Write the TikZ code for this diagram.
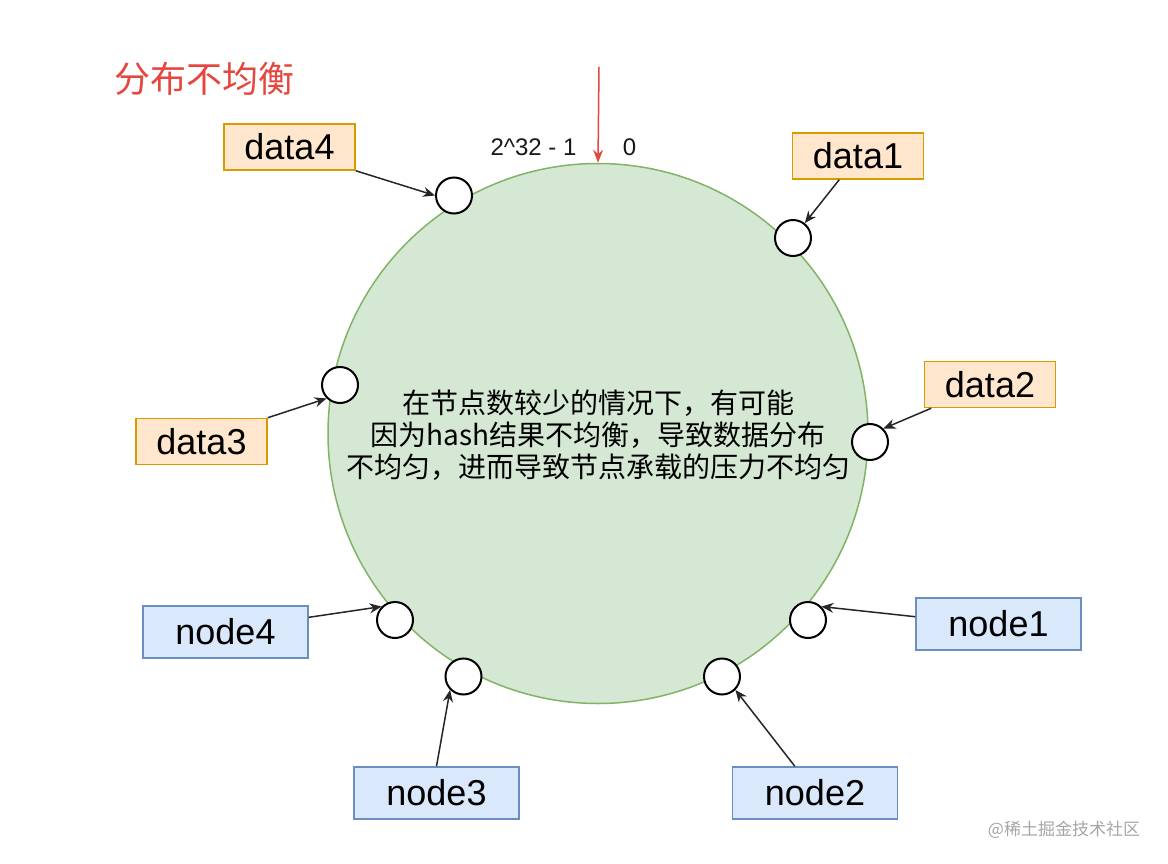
\documentclass[tikz,border=0pt]{standalone}
\usepackage{fontspec}
\setmainfont{Liberation Sans}
\newfontfamily\cjk{Noto Sans CJK SC}
\usetikzlibrary{arrows.meta}
\definecolor{dataFill}{HTML}{FFE6CC}
\definecolor{dataDraw}{HTML}{D79B00}
\definecolor{nodeFill}{HTML}{DAE8FC}
\definecolor{nodeDraw}{HTML}{6C8EBF}
\definecolor{ringFill}{HTML}{D5E8D4}
\definecolor{ringDraw}{HTML}{82B366}
\definecolor{titleRed}{HTML}{E5473F}
\definecolor{wmGray}{HTML}{A6A6A6}
\begin{document}
\begin{tikzpicture}[x=1pt,y=-1pt,
  databox/.style={draw=dataDraw, fill=dataFill, line width=1.5pt, minimum width=131pt, minimum height=46pt, inner sep=0pt, font=\fontsize{36}{40}\selectfont},
  nodebox/.style={draw=nodeDraw, fill=nodeFill, line width=1.5pt, minimum width=165pt, minimum height=52pt, inner sep=0pt, font=\fontsize{36}{40}\selectfont},
  slot/.style={circle, draw=black, fill=white, line width=2pt, minimum size=36pt, inner sep=0pt},
  link/.style={-{Stealth[length=12pt,width=10pt]}, line width=1.5pt, draw=black!85},
]
\fill[white] (0,0) rectangle (1168,864);
\useasboundingbox (0,0) rectangle (1168,864);

% ring
\node[circle, draw=ringDraw, fill=ringFill, line width=1.5pt, minimum size=540pt, inner sep=0pt] (ring) at (598,433.5) {};

% title
\node[font=\cjk\fontsize{36}{40}\selectfont, text=titleRed, inner sep=0pt] (title) at (204,79) {分布不均衡};

% red pointer
\coordinate (redtop) at (599,67);
\draw[-{Stealth[length=13pt,width=10pt]}, draw=titleRed, line width=1.5pt] (redtop) -- (ring.north);
\node[font=\fontsize{24}{28}\selectfont, text=black!90, inner sep=0pt] (maxv) at (533.5,147) {2\textasciicircum 32 - 1};
\node[font=\fontsize{24}{28}\selectfont, text=black!90, inner sep=0pt] (zero) at (629.5,147) {0};

% description
\node[font=\cjk\fontsize{28}{32}\selectfont, align=center, inner sep=0pt] (desc) at (598,435)
  {在节点数较少的情况下，有可能\\因为hash结果不均衡，导致数据分布\\不均匀，进而导致节点承载的压力不均匀};

% slots on ring
\node[slot] (s4) at (454,195.5) {};
\node[slot] (s1) at (793,238) {};
\node[slot] (s3) at (340,385) {};
\node[slot] (s2) at (870,442) {};
\node[slot] (t4) at (395,620) {};
\node[slot] (t1) at (808,620) {};
\node[slot] (t3) at (463.5,676.5) {};
\node[slot] (t2) at (722,676.5) {};

% data boxes
\node[databox] (d4) at (289.5,147) {data4};
\node[databox] (d1) at (858,156) {data1};
\node[databox] (d2) at (990,384.5) {data2};
\node[databox] (d3) at (201.5,441.5) {data3};

% node boxes
\node[nodebox] (n4) at (225.5,632) {node4};
\node[nodebox] (n1) at (998.5,624) {node1};
\node[nodebox] (n3) at (436.5,793) {node3};
\node[nodebox] (n2) at (815,793) {node2};

% connectors
\draw[link] (d4.south east) -- (s4.west);
\draw[link] (d1) -- (s1);
\draw[link] (d2.202) -- (s2.north east);
\draw[link] (d3.north east) -- (s3.south west);
\draw[link] (n4.10) -- (t4.north west);
\draw[link] (n1.175) -- (t1.north east);
\draw[link] (n3.north) -- (t3.south west);
\draw[link] (n2.127.6) -- (t2.south east);

% watermark
\node[font=\cjk\fontsize{17}{20}\selectfont, text=wmGray, inner sep=0pt] (wm) at (1064,830) {@稀土掘金技术社区};
\end{tikzpicture}
\end{document}
